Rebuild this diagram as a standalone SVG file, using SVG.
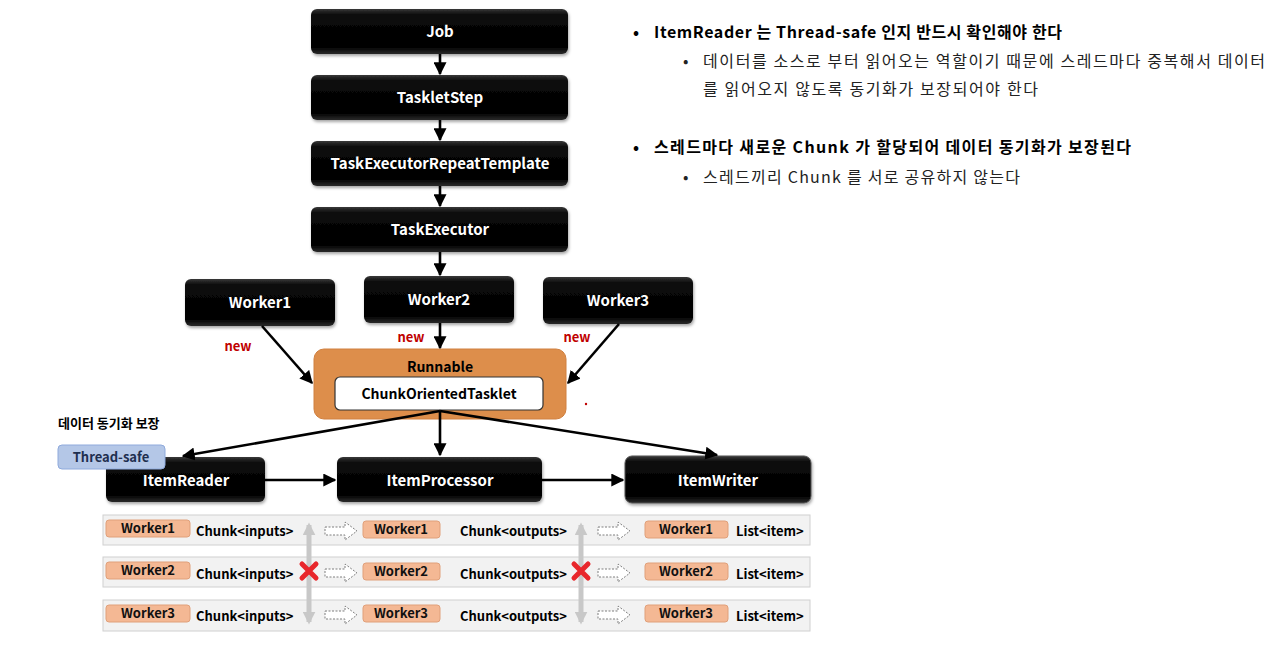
<svg xmlns="http://www.w3.org/2000/svg" width="1280" height="664" viewBox="0 0 1280 664">
<defs>
<linearGradient id="blk" x1="0" y1="0" x2="0" y2="1">
<stop offset="0" stop-color="#3a3a3a"/>
<stop offset="0.12" stop-color="#0a0a0a"/>
<stop offset="0.85" stop-color="#000"/>
<stop offset="1" stop-color="#2a2a2a"/>
</linearGradient>
<filter id="sh" x="-10%" y="-10%" width="120%" height="140%">
<feDropShadow dx="1" dy="2" stdDeviation="1.5" flood-color="#000" flood-opacity="0.35"/>
</filter>
<marker id="ah" viewBox="0 0 10 10" refX="9" refY="5" markerWidth="5" markerHeight="5" orient="auto" markerUnits="strokeWidth">
<path d="M0,0 L10,5 L0,10 z" fill="#000"/>
</marker>
<marker id="ag" viewBox="0 0 10 10" refX="8" refY="5" markerWidth="2.6" markerHeight="2.6" orient="auto-start-reverse" markerUnits="strokeWidth">
<path d="M0,0 L10,5 L0,10 z" fill="#c8c8c8"/>
</marker>
<g id="hollow"><path d="M0,-4 L20,-4 L20,-9 L32,0 L20,9 L20,4 L0,4 z" fill="#fff" stroke="#7f7f7f" stroke-width="1" stroke-dasharray="2,1.5"/></g>
<g id="redx"><path d="M-7,-7 L7,7 M7,-7 L-7,7" stroke="#e8262b" stroke-width="5" stroke-linecap="round"/></g>
</defs>
<style>
.bx{fill:url(#blk);filter:url(#sh)}
.bt{font-family:"Noto Sans CJK KR","Noto Sans",sans-serif;font-weight:700;font-size:15px;fill:#fff;text-anchor:middle}
.new{font-family:"Noto Sans CJK KR","Noto Sans",sans-serif;font-weight:700;font-size:13px;fill:#c00000;text-anchor:middle}
.dk{font-family:"Noto Sans CJK KR","Noto Sans",sans-serif;font-weight:700;font-size:14px;fill:#000;text-anchor:middle}
.row{fill:#f2f2f2;stroke:#d0d0d0;stroke-width:1}
.tag{fill:#f4b894;stroke:#e0a07a;stroke-width:1}
.tt{font-family:"Noto Sans CJK KR","Noto Sans",sans-serif;font-weight:700;font-size:13px;fill:#111;text-anchor:middle}
.ct{font-family:"Noto Sans CJK KR","Noto Sans",sans-serif;font-weight:700;font-size:13px;fill:#000}
.rb{font-family:"Noto Sans CJK KR","Noto Sans",sans-serif;font-weight:700;font-size:16px;fill:#000}
.rn{font-family:"Noto Sans CJK KR","Noto Sans",sans-serif;font-weight:400;font-size:16px;fill:#222}
.cn{stroke:#000;stroke-width:2.6;fill:none;marker-end:url(#ah)}
</style>
<rect width="1280" height="664" fill="#fff"/>

<g id="job"><rect class="bx" x="311" y="9" width="257" height="45" rx="6"/><text class="bt" x="440" y="37">Job</text></g>
<g id="taskletstep"><rect class="bx" x="311" y="75" width="257" height="45" rx="6"/><text class="bt" x="440" y="103">TaskletStep</text></g>
<g id="repeattemplate"><rect class="bx" x="311" y="141" width="257" height="45" rx="6"/><text class="bt" x="440" y="169">TaskExecutorRepeatTemplate</text></g>
<g id="taskexecutor"><rect class="bx" x="311" y="207" width="257" height="45" rx="6"/><text class="bt" x="440" y="235">TaskExecutor</text></g>

<g id="worker1"><rect class="bx" x="185" y="279" width="150" height="47" rx="6"/><text class="bt" x="260" y="308" font-size="16">Worker1</text></g>
<g id="worker2"><rect class="bx" x="364" y="276" width="150" height="47" rx="6"/><text class="bt" x="439" y="305" font-size="16">Worker2</text></g>
<g id="worker3"><rect class="bx" x="543" y="277" width="150" height="47" rx="6"/><text class="bt" x="618" y="306" font-size="16">Worker3</text></g>

<g id="runnable">
<rect x="314" y="349" width="252" height="70" rx="10" fill="#dd8e4b" stroke="#d08040" stroke-width="1"/>
<text class="dk" x="440" y="372">Runnable</text>
<rect x="335" y="377" width="208" height="33" rx="5" fill="#fff" stroke="#333" stroke-width="1.2"/>
<text class="dk" x="439" y="399">ChunkOrientedTasklet</text>
</g>
<circle cx="586" cy="404" r="1.2" fill="#c00000"/>

<g id="labels">
<text class="new" x="238" y="351">new</text>
<text class="new" x="411" y="342">new</text>
<text class="new" x="577" y="342">new</text>
<text x="58" y="428" font-family="Noto Sans CJK KR, sans-serif" font-weight="700" font-size="13" fill="#000">데이터 동기화 보장</text>
</g>

<g id="itemreader"><rect class="bx" x="106" y="457" width="159" height="45" rx="6"/><text class="bt" x="186" y="486">ItemReader</text></g>
<g id="threadsafe"><rect x="58" y="445" width="107" height="24" rx="4" fill="#b4c7e7" stroke="#8faadc" stroke-width="1"/><text x="111" y="462" font-family="Noto Sans CJK KR, sans-serif" font-weight="700" font-size="13" fill="#1f2f4f" text-anchor="middle">Thread-safe</text></g>
<g id="itemprocessor"><rect class="bx" x="337" y="457" width="205" height="45" rx="6"/><text class="bt" x="440" y="486">ItemProcessor</text></g>
<g id="itemwriter"><rect class="bx" x="625" y="456" width="186" height="47" rx="7" stroke="#555" stroke-width="1"/><text class="bt" x="718" y="486">ItemWriter</text></g>

<g id="connectors">
<line class="cn" x1="440" y1="54" x2="440" y2="74"/>
<line class="cn" x1="440" y1="120" x2="440" y2="140"/>
<line class="cn" x1="440" y1="186" x2="440" y2="206"/>
<line class="cn" x1="440" y1="252" x2="440" y2="275"/>
<line class="cn" x1="262" y1="326" x2="312" y2="383"/>
<line class="cn" x1="440" y1="323" x2="440" y2="348"/>
<line class="cn" x1="619" y1="324" x2="568" y2="383"/>
<line class="cn" x1="440" y1="411" x2="183" y2="456"/>
<line class="cn" x1="440" y1="411" x2="440" y2="455"/>
<line class="cn" x1="440" y1="411" x2="717" y2="455"/>
<line class="cn" x1="265" y1="480" x2="335" y2="480"/>
<line class="cn" x1="542" y1="480" x2="623" y2="480"/>
</g>

<g id="rows">
<rect class="row" x="103" y="515" width="707" height="30"/>
<rect class="row" x="103" y="557" width="707" height="30"/>
<rect class="row" x="103" y="600" width="707" height="31"/>

<rect class="tag" x="106" y="520" width="84" height="17" rx="3"/><text class="tt" x="148" y="533">Worker1</text>
<rect class="tag" x="106" y="562" width="84" height="17" rx="3"/><text class="tt" x="148" y="575">Worker2</text>
<rect class="tag" x="106" y="605" width="84" height="17" rx="3"/><text class="tt" x="148" y="618">Worker3</text>

<text class="ct" x="196" y="536">Chunk&lt;inputs&gt;</text>
<text class="ct" x="196" y="579">Chunk&lt;inputs&gt;</text>
<text class="ct" x="196" y="621">Chunk&lt;inputs&gt;</text>

<use href="#hollow" x="325" y="531"/>
<use href="#hollow" x="325" y="573"/>
<use href="#hollow" x="325" y="615"/>

<rect class="tag" x="363" y="521" width="77" height="17" rx="3"/><text class="tt" x="401" y="534">Worker1</text>
<rect class="tag" x="363" y="563" width="77" height="17" rx="3"/><text class="tt" x="401" y="576">Worker2</text>
<rect class="tag" x="363" y="605" width="77" height="17" rx="3"/><text class="tt" x="401" y="618">Worker3</text>

<text class="ct" x="460" y="536">Chunk&lt;outputs&gt;</text>
<text class="ct" x="460" y="579">Chunk&lt;outputs&gt;</text>
<text class="ct" x="460" y="621">Chunk&lt;outputs&gt;</text>

<use href="#hollow" x="598" y="531"/>
<use href="#hollow" x="598" y="573"/>
<use href="#hollow" x="598" y="615"/>

<rect class="tag" x="645" y="521" width="83" height="17" rx="3"/><text class="tt" x="686" y="534">Worker1</text>
<rect class="tag" x="645" y="563" width="83" height="17" rx="3"/><text class="tt" x="686" y="576">Worker2</text>
<rect class="tag" x="645" y="605" width="83" height="17" rx="3"/><text class="tt" x="686" y="618">Worker3</text>

<text class="ct" x="736" y="536">List&lt;item&gt;</text>
<text class="ct" x="736" y="579">List&lt;item&gt;</text>
<text class="ct" x="736" y="621">List&lt;item&gt;</text>

<line x1="309" y1="525" x2="309" y2="622" stroke="#c8c8c8" stroke-width="5" marker-start="url(#ag)" marker-end="url(#ag)"/>
<line x1="581" y1="525" x2="581" y2="622" stroke="#c8c8c8" stroke-width="5" marker-start="url(#ag)" marker-end="url(#ag)"/>
<use href="#redx" x="309" y="571"/>
<use href="#redx" x="581" y="571"/>
</g>

<g id="notes">
<text class="rb" x="633" y="38">•</text>
<text class="rb" x="654" y="38" textLength="408" lengthAdjust="spacing">ItemReader 는 Thread-safe 인지 반드시 확인해야 한다</text>
<text class="rn" x="683" y="67">•</text>
<text class="rn" x="703" y="67" textLength="562" lengthAdjust="spacing">데이터를 소스로 부터 읽어오는 역할이기 때문에 스레드마다 중복해서 데이터</text>
<text class="rn" x="703" y="95" textLength="335" lengthAdjust="spacing">를 읽어오지 않도록 동기화가 보장되어야 한다</text>
<text class="rb" x="633" y="153">•</text>
<text class="rb" x="654" y="153" textLength="477" lengthAdjust="spacing">스레드마다 새로운 Chunk 가 할당되어 데이터 동기화가 보장된다</text>
<text class="rn" x="683" y="183">•</text>
<text class="rn" x="703" y="183" textLength="317" lengthAdjust="spacing">스레드끼리 Chunk 를 서로 공유하지 않는다</text>
</g>
</svg>
